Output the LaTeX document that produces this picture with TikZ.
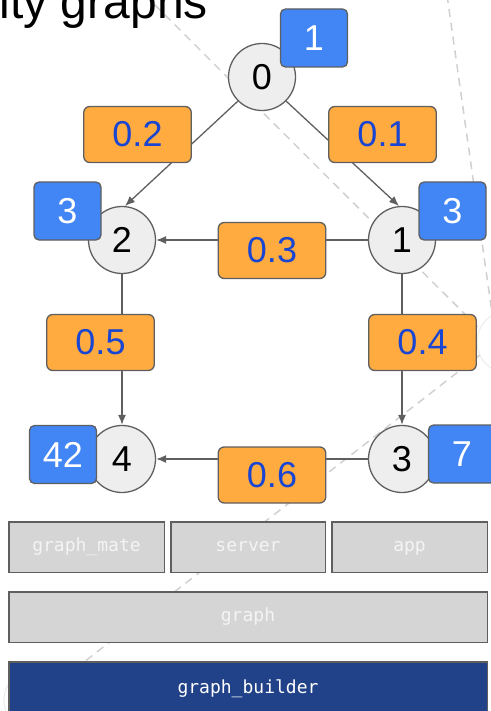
\documentclass[tikz,border=0pt]{standalone}
\usepackage{fontspec}
\setmainfont{Liberation Sans}
\newfontfamily\codefont{DejaVu Sans Mono}
\usetikzlibrary{arrows.meta,positioning}

\definecolor{edgegray}{HTML}{5F5F5F}
\definecolor{vertfill}{HTML}{EEEEEE}
\definecolor{badgeblue}{HTML}{4285F4}
\definecolor{weightorange}{HTML}{FFAB40}
\definecolor{weighttext}{HTML}{1846D2}
\definecolor{layerfill}{HTML}{D5D5D5}
\definecolor{layertext}{HTML}{F4F4F4}
\definecolor{builderblue}{HTML}{214289}
\definecolor{guidegray}{HTML}{D0D0D0}
\definecolor{ghostgray}{HTML}{EBEBEB}

\begin{document}
\begin{tikzpicture}[x=1pt,y=-1pt]
      \tikzstyle{vert}=[circle,draw=edgegray,fill=vertfill,line width=1.3pt,minimum size=67pt,inner sep=0pt,font=\fontsize{36}{36}\selectfont]
      \tikzstyle{badge}=[rectangle,rounded corners=5pt,draw=edgegray,fill=badgeblue,text=white,line width=1.3pt,minimum width=67pt,minimum height=58pt,inner sep=0pt,font=\fontsize{36}{36}\selectfont]
      \tikzstyle{weight}=[rectangle,rounded corners=6pt,draw=edgegray,fill=weightorange,text=weighttext,line width=1.3pt,minimum width=107.5pt,minimum height=56pt,inner sep=0pt,font=\fontsize{36}{36}\selectfont]
      \tikzstyle{layer}=[rectangle,draw=edgegray,fill=layerfill,text=layertext,line width=1.5pt,minimum height=50.5pt,inner sep=0pt,text height=13pt,text depth=3.2pt,font=\codefont\fontsize{18}{18}\selectfont]
      \tikzstyle{flow}=[-{Latex[length=10pt,width=8pt]},draw=edgegray,line width=1.3pt]
      \tikzstyle{guide}=[draw=guidegray,line width=1.5pt,dash pattern=on 8pt off 6pt]
      \tikzstyle{ghost}=[circle,draw=ghostgray,line width=1pt,minimum size=62pt,inner sep=0pt]

      \useasboundingbox (0,0) rectangle (490,711);

      % faint graph in the background
      \node[ghost] (ghostR) at (508,342) {};
      \node[ghost] (ghostL) at (35,700) {};
      \coordinate (guideA) at (145,-5);
      \coordinate (guideB) at (447,-5);
      \draw[guide] (guideA) -- (ghostR.155);
      \draw[guide] (guideB) -- (ghostR.120);
      \draw[guide] (ghostR.205) -- (ghostL);

      \node[anchor=base east,inner sep=0pt,font=\fontsize{48}{48}\selectfont] (title) at (208,19) {ity graphs};

      % vertices
      \node[vert] (v0) at (262,77) {0};
      \node[vert] (v1) at (402,240) {1};
      \node[vert] (v2) at (122,240) {2};
      \node[vert] (v3) at (402,459) {3};
      \node[vert] (v4) at (122,459) {4};

      \draw[flow] (v0.225) -- (v2.85);
      \draw[flow] (v0.315) -- (v1.95);
      \draw[flow] (v1) -- (v2);
      \draw[flow] (v1) -- (v3);
      \draw[flow] (v2) -- (v4);
      \draw[flow] (v3) -- (v4);

      % edge weights
      \node[weight] (w02) at (137.5,134.5) {0.2};
      \node[weight] (w01) at (382.5,134.5) {0.1};
      \node[weight] (w12) at (272,250.5) {0.3};
      \node[weight] (w24) at (100.5,342.5) {0.5};
      \node[weight] (w13) at (422.5,342.5) {0.4};
      \node[weight] (w34) at (272,475) {0.6};

      % vertex values
      \node[badge] (b0) at (314,38) {1};
      \node[badge] (b1) at (452.5,211) {3};
      \node[badge] (b2) at (67.5,211) {3};
      \node[badge] (b3) at (462,454) {7};
      \node[badge] (b4) at (63,454.5) {42};

      % package layers
      \node[layer,minimum width=478.5pt,minimum height=54pt,fill=builderblue,text=white] (builder) at (248,688.75) {graph\_builder};
      \node[layer,minimum width=478.5pt,above=18pt of builder] (graph) {graph};
      \node[layer,minimum width=154.5pt,above=18pt of graph] (server) {server};
      \node[layer,minimum width=155.5pt,left=5pt of server] (mate) {graph\_mate};
      \node[layer,minimum width=155.5pt,right=5pt of server] (app) {app};
    \end{tikzpicture}
\end{document}
